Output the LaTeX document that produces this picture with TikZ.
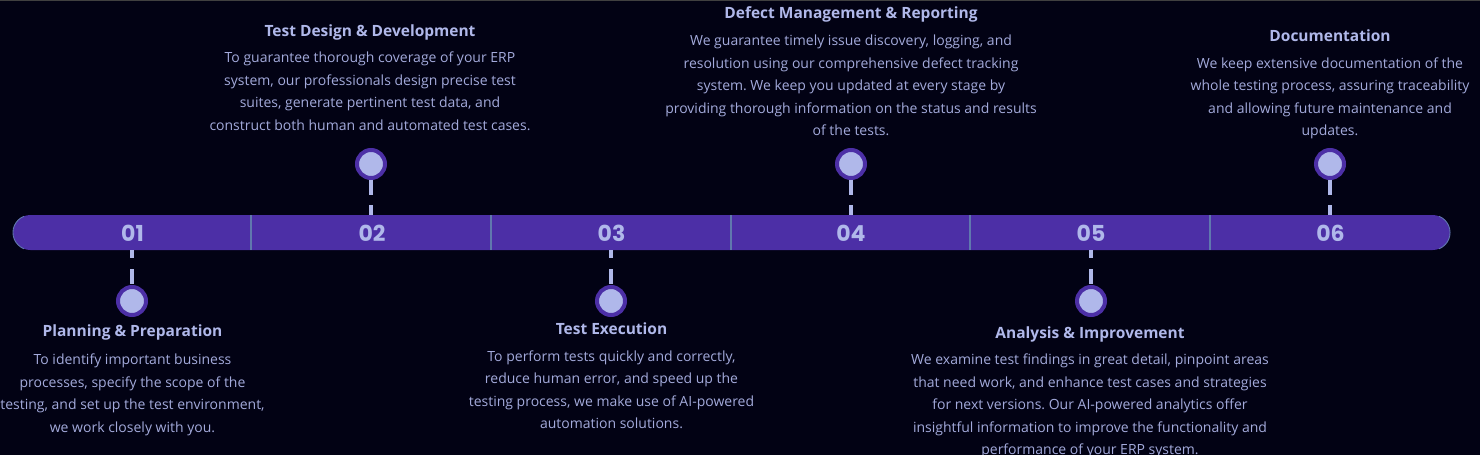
\documentclass[tikz,border=0pt]{standalone}
\usepackage{fontspec}
\setmainfont{Open Sans}
\newfontfamily\numfont{Poppins}
\definecolor{bgc}{HTML}{020214}
\definecolor{barc}{HTML}{4C2FA6}
\definecolor{lite}{HTML}{B0B8EA}
\definecolor{bodyc}{HTML}{A3AADB}
\definecolor{divc}{HTML}{6078AE}
\tikzset{
  x=1pt,y=-1pt,
  barbox/.style={fill=barc,rounded corners=17.5pt,minimum width=1437pt,minimum height=35pt,inner sep=0pt},
  numlabel/.style={font=\numfont\fontsize{22}{24}\selectfont\bfseries,text=lite,inner sep=0pt},
  dot/.style={circle,draw=barc,fill=lite,line width=4pt,minimum size=28pt,inner sep=0pt},
  title/.style={font=\fontsize{15.5}{20}\selectfont\bfseries,text=lite,inner sep=0pt,anchor=base},
  body/.style={font=\frenchspacing\fontsize{14}{22.4}\selectfont,text=bodyc,align=center,inner sep=0pt,anchor=north},
  upstem/.style={lite,line width=3.4pt,dash pattern=on 15pt off 10pt on 10pt},
  downstem/.style={lite,line width=3.4pt,dash pattern=on 8pt off 11pt on 15pt},
  sep/.style={divc,line width=1.2pt},
}
\begin{document}
\begin{tikzpicture}
\useasboundingbox (0,0) rectangle (1480,461);
\fill[bgc] (0,0) rectangle (1480,461);
\fill[black!75!white] (0,0) rectangle (1480,1);
\node[barbox] (bar) at (731.5,232.5) {};
\draw[divc,line width=0.9pt] (23.9,216.3) arc[start angle=112,end angle=248,radius=17.5pt];
\draw[divc,line width=0.9pt] (1439.1,216.3) arc[start angle=68,end angle=-68,radius=17.5pt];
\foreach \x in {251,491,731,970,1210}{\draw[sep] (\x,215) -- (\x,250);}
\node[numlabel] (n1) at (132.5,233) {01};
\node[numlabel] (n2) at (372,233) {02};
\node[numlabel] (n3) at (611.5,233) {03};
\node[numlabel] (n4) at (851,233) {04};
\node[numlabel] (n5) at (1091,233) {05};
\node[numlabel] (n6) at (1330.5,233) {06};
\node[dot] (c1) at (132,301) {};
\node[dot] (c2) at (371,164) {};
\node[dot] (c3) at (611,301) {};
\node[dot] (c4) at (851,164) {};
\node[dot] (c5) at (1091,301) {};
\node[dot] (c6) at (1330,164) {};
\foreach \c in {1,3,5}{\draw[downstem] (c\c |- bar.south) -- (c\c.north);}
\foreach \c in {2,4,6}{\draw[upstem] (c\c.south) -- (c\c |- bar.north);}
\node[title] (t1) at (132.5,336.5) {Planning \& Preparation};
\node[body] (b1) at (132.5,354) {To identify important business\\processes, specify the scope of the\\testing, and set up the test environment,\\we work closely with you.};
\node[title] (t2) at (370,36) {Test Design \& Development};
\node[body] (b2) at (370,52) {To guarantee thorough coverage of your ERP\\system, our professionals design precise test\\suites, generate pertinent test data, and\\construct both human and automated test cases.};
\node[title] (t3) at (611.5,334) {Test Execution};
\node[body] (b3) at (611.5,350.5) {To perform tests quickly and correctly,\\reduce human error, and speed up the\\testing process, we make use of AI-powered\\automation solutions.};
\node[title] (t4) at (851,18) {Defect Management \& Reporting};
\node[body] (b4) at (851,35) {We guarantee timely issue discovery, logging, and\\resolution using our comprehensive defect tracking\\system. We keep you updated at every stage by\\providing thorough information on the status and results\\of the tests.};
\node[title] (t5) at (1090,338) {Analysis \& Improvement};
\node[body] (b5) at (1090,354) {We examine test findings in great detail, pinpoint areas\\that need work, and enhance test cases and strategies\\for next versions. Our AI-powered analytics offer\\insightful information to improve the functionality and\\performance of your ERP system.};
\node[title] (t6) at (1330,41) {Documentation};
\node[body] (b6) at (1330,57.5) {We keep extensive documentation of the\\whole testing process, assuring traceability\\and allowing future maintenance and\\updates.};
\fill[white] (0,454.5) rectangle (1480,461);
\end{tikzpicture}
\end{document}
